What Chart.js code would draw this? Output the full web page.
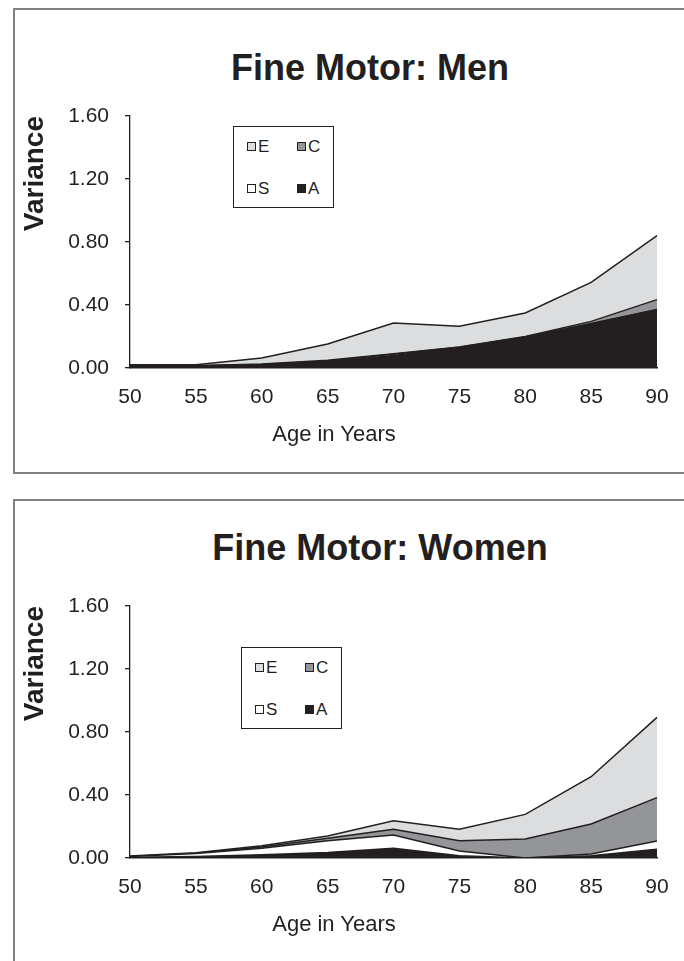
<!DOCTYPE html>
<html>
<head>
<meta charset="utf-8">
<script src="https://cdn.jsdelivr.net/npm/chart.js@4.4.1/dist/chart.umd.min.js"></script>
<style>
  html, body { margin: 0; padding: 0; width: 684px; height: 961px; overflow: hidden; background: #fff;
    font-family: 'Liberation Sans', Arial, sans-serif; color: #231f20; }
  .panel { position: absolute; left: 13px; width: 720px; border: 2px solid #808285; border-right: none; }
  canvas { position: absolute; left: 0; }
  .title { position: absolute; left: 0; font-weight: bold; font-size: 36px; line-height: 36px; text-align: center; white-space: nowrap; }
  .xtitle { position: absolute; left: 0; width: 668px; font-size: 22px; line-height: 22px; text-align: center; }
  .legend { position: absolute; width: 99px; height: 80px; border: 1.5px solid #231f20; background: #fff; }
  .item { position: absolute; display: flex; align-items: center; font-size: 17px; line-height: 17px; height: 17px; }
  .sw { display: inline-block; width: 7px; height: 7px; border: 1px solid #231f20; margin-right: 2px; }
</style>
</head>
<body>
<div class="panel" style="top:8px;height:462px"></div>
<div class="panel" style="top:499px;height:500px"></div>

<div class="title" style="top:50px;width:740px">Fine Motor: Men</div>
<div class="title" style="top:530px;width:760px">Fine Motor: Women</div>

<canvas id="menChart" width="684" height="490" style="top:0"></canvas>
<canvas id="womenChart" width="684" height="490" style="top:490px"></canvas>

<div class="xtitle" style="top:423px">Age in Years</div>
<div class="xtitle" style="top:913px">Age in Years</div>

<div class="legend" id="menLegend" style="left:233px;top:126px"></div>
<div class="legend" id="womenLegend" style="left:241px;top:647px"></div>

<script>
const ages = ['50', '55', '60', '65', '70', '75', '80', '85', '90'];
const yTicks = [0, 0.4, 0.8, 1.2, 1.6];

// stacked from the bottom: A, S, C, E
const menA = [0.012, 0.012, 0.02, 0.04, 0.08, 0.13, 0.195, 0.28, 0.37];
const menS = [0.002, 0.002, 0.003, 0.005, 0.008, 0.002, 0.002, 0.002, 0.002];
const menC = [0.001, 0.001, 0.002, 0.004, 0.003, 0.001, 0.003, 0.014, 0.062];
const menE = [0.005, 0.005, 0.038, 0.103, 0.195, 0.132, 0.149, 0.248, 0.406];

const womenA = [0.005, 0.01, 0.02, 0.035, 0.062, 0.015, 0.0, 0.015, 0.055];
const womenS = [0.004, 0.018, 0.042, 0.075, 0.084, 0.029, 0.0, 0.01, 0.053];
const womenC = [0.001, 0.002, 0.008, 0.015, 0.036, 0.066, 0.12, 0.191, 0.275];
const womenE = [0.002, 0.003, 0.008, 0.015, 0.055, 0.072, 0.157, 0.30, 0.51];

const seriesNames = ['A', 'S', 'C', 'E'];
const seriesColors = ['#231f20', '#ffffff', '#939598', '#dcdddf'];
const legendOrder = ['E', 'C', 'S', 'A'];

const ink = '#231f20';
const tickFont = { family: "'Liberation Sans', Arial, sans-serif", size: 21 };

function makeChart(id, series) {
    new Chart(document.getElementById(id), {
        type: 'line',
        data: {
            labels: ages,
            datasets: series.map((vals, i) => ({
                label: seriesNames[i],
                data: vals,
                backgroundColor: seriesColors[i],
                borderColor: ink,
                borderWidth: 1.5,
                pointRadius: 0,
                tension: 0,
                fill: i === 0 ? 'origin' : '-1'
            }))
        },
        options: {
            responsive: false,
            animation: false,
            layout: { padding: { top: 116, right: 27, left: 0, bottom: 0 } },
            plugins: { legend: { display: false }, tooltip: { enabled: false } },
            scales: {
                x: {
                    grid: { display: false },
                    border: { color: ink, width: 1.5 },
                    ticks: { color: ink, font: tickFont, padding: 9, maxRotation: 0 },
                    afterFit: s => { s.height = 122; }
                },
                y: {
                    stacked: true,
                    min: 0,
                    max: 1.6,
                    afterBuildTicks: s => { s.ticks = yTicks.map(v => ({ value: v })); },
                    grid: { drawOnChartArea: false, tickLength: 5, color: ink, lineWidth: 1.3 },
                    border: { color: ink, width: 1.3 },
                    ticks: { color: ink, font: tickFont, padding: 16, callback: v => v.toFixed(2) },
                    title: {
                        display: true, text: 'Variance', align: 'end', color: ink,
                        font: { family: "'Liberation Sans', Arial, sans-serif", size: 28, weight: 'bold' },
                        padding: { top: 18, bottom: 0 }
                    },
                    afterFit: s => { s.width = 130; }
                }
            }
        }
    });
}

function makeLegend(id) {
    const box = document.getElementById(id);
    const spots = [[13, 11], [63, 11], [13, 53], [63, 53]];
    legendOrder.forEach((name, k) => {
        const item = document.createElement('div');
        item.className = 'item';
        item.style.left = spots[k][0] + 'px';
        item.style.top = spots[k][1] + 'px';
        const sw = document.createElement('span');
        sw.className = 'sw';
        sw.style.background = seriesColors[seriesNames.indexOf(name)];
        item.appendChild(sw);
        item.appendChild(document.createTextNode(name));
        box.appendChild(item);
    });
}

makeChart('menChart', [menA, menS, menC, menE]);
makeChart('womenChart', [womenA, womenS, womenC, womenE]);
makeLegend('menLegend');
makeLegend('womenLegend');
</script>
</body>
</html>
